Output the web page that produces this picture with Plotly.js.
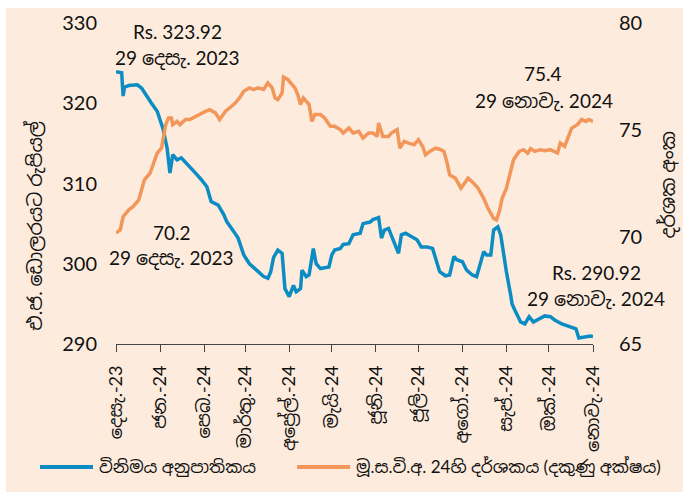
<!DOCTYPE html>
<html>
<head>
<meta charset="utf-8">
<script src="https://cdn.plot.ly/plotly-3.0.1.min.js"></script>
<style>
html,body{margin:0;padding:0;background:#ffffff;}
#chart{position:absolute;left:6px;top:8px;width:677px;height:484px;}
</style>
</head>
<body>
<div id="chart"></div>
<script>
// Exchange rate (Rs per USD) – left axis
const rateDates = ["2023-12-29","2023-12-31","2024-01-02","2024-01-03","2024-01-04","2024-01-07","2024-01-10","2024-01-13","2024-01-16","2024-01-20","2024-01-23","2024-01-27","2024-01-29","2024-01-31","2024-02-03","2024-02-05","2024-02-07","2024-02-10","2024-02-13","2024-02-18","2024-02-24","2024-02-27","2024-03-02","2024-03-05","2024-03-10","2024-03-14","2024-03-16","2024-03-21","2024-03-24","2024-03-28","2024-04-01","2024-04-06","2024-04-11","2024-04-14","2024-04-16","2024-04-18","2024-04-21","2024-04-24","2024-04-26","2024-04-29","2024-05-02","2024-05-04","2024-05-07","2024-05-08","2024-05-11","2024-05-13","2024-05-16","2024-05-18","2024-05-21","2024-05-27","2024-05-29","2024-05-31","2024-06-04","2024-06-06","2024-06-10","2024-06-13","2024-06-18","2024-06-20","2024-06-25","2024-06-27","2024-07-01","2024-07-03","2024-07-05","2024-07-08","2024-07-11","2024-07-15","2024-07-17","2024-07-20","2024-07-24","2024-07-28","2024-07-31","2024-08-04","2024-08-08","2024-08-10","2024-08-13","2024-08-17","2024-08-20","2024-08-23","2024-08-25","2024-08-29","2024-09-01","2024-09-05","2024-09-08","2024-09-11","2024-09-13","2024-09-15","2024-09-18","2024-09-20","2024-09-23","2024-09-25","2024-09-27","2024-09-29","2024-10-02","2024-10-03","2024-10-05","2024-10-09","2024-10-12","2024-10-15","2024-10-18","2024-10-23","2024-10-26","2024-10-30","2024-11-02","2024-11-07","2024-11-11","2024-11-14","2024-11-17","2024-11-19","2024-11-25","2024-11-27","2024-11-29"];
const rateValues = [323.92,323.9,323.8,320.9,322.0,322.2,322.25,322.3,321.9,320.7,320.0,319.0,317.75,316.9,314.4,311.3,313.6,312.95,313.2,312.3,311.1,310.5,309.6,307.75,307.3,306.1,305.25,304.0,303.2,301.1,300.0,299.2,298.4,298.2,299.0,300.8,301.7,301.3,296.9,295.9,297.3,296.5,296.9,299.2,298.4,298.6,301.9,300.0,299.4,299.6,301.1,301.7,301.9,302.4,302.5,303.6,303.8,305.0,305.2,305.5,305.75,303.2,304.2,304.4,303.0,301.3,303.6,303.8,303.4,303.0,302.1,302.1,301.9,300.7,299.0,298.5,298.6,300.9,300.5,300.25,299.2,298.6,298.4,300.25,301.5,301.1,301.1,304.2,304.6,303.6,300.9,299.0,296.1,295.0,294.2,292.75,292.5,293.4,292.75,293.2,293.5,293.4,293.0,292.5,292.3,292.1,291.9,290.75,290.9,291.0,290.92];

// Index (right axis)
const indexDates = ["2023-12-29","2024-01-01","2024-01-03","2024-01-07","2024-01-10","2024-01-14","2024-01-16","2024-01-18","2024-01-22","2024-01-24","2024-01-27","2024-01-30","2024-02-02","2024-02-04","2024-02-06","2024-02-07","2024-02-10","2024-02-12","2024-02-16","2024-02-19","2024-02-23","2024-02-26","2024-03-01","2024-03-04","2024-03-08","2024-03-11","2024-03-15","2024-03-18","2024-03-22","2024-03-25","2024-03-28","2024-04-01","2024-04-04","2024-04-07","2024-04-11","2024-04-14","2024-04-17","2024-04-19","2024-04-21","2024-04-24","2024-04-25","2024-04-28","2024-05-01","2024-05-03","2024-05-05","2024-05-07","2024-05-09","2024-05-13","2024-05-15","2024-05-17","2024-05-21","2024-05-24","2024-05-28","2024-05-31","2024-06-04","2024-06-06","2024-06-10","2024-06-13","2024-06-17","2024-06-20","2024-06-24","2024-06-27","2024-06-30","2024-07-01","2024-07-04","2024-07-08","2024-07-10","2024-07-14","2024-07-16","2024-07-19","2024-07-22","2024-07-26","2024-07-29","2024-08-01","2024-08-03","2024-08-06","2024-08-10","2024-08-13","2024-08-16","2024-08-18","2024-08-20","2024-08-24","2024-08-28","2024-08-31","2024-09-02","2024-09-06","2024-09-09","2024-09-13","2024-09-16","2024-09-20","2024-09-22","2024-09-24","2024-09-26","2024-09-29","2024-10-02","2024-10-04","2024-10-08","2024-10-11","2024-10-14","2024-10-16","2024-10-19","2024-10-23","2024-10-26","2024-10-30","2024-11-04","2024-11-06","2024-11-09","2024-11-12","2024-11-14","2024-11-18","2024-11-21","2024-11-24","2024-11-26","2024-11-29"];
const indexValues = [70.2,70.33,70.95,71.27,71.42,71.73,72.2,72.67,72.98,73.38,73.92,74.15,75.25,75.56,75.56,75.25,75.4,75.25,75.49,75.49,75.64,75.72,75.87,75.95,75.8,75.49,75.87,76.03,76.26,76.5,76.81,76.97,76.89,76.97,76.89,77.2,76.97,76.5,76.42,76.73,77.47,77.36,77.13,76.97,76.66,76.19,76.5,76.19,75.4,75.72,75.72,75.56,75.17,75.17,75.02,74.86,75.09,74.86,74.94,74.62,74.86,74.86,74.7,75.33,74.7,74.7,74.86,75.02,74.15,74.47,74.39,74.31,74.55,74.23,73.84,74.0,74.15,74.1,74.0,73.53,72.9,72.75,72.28,72.59,72.75,72.51,72.28,71.81,71.34,70.87,70.8,71.19,71.81,72.28,73.06,73.61,74.0,74.08,73.92,74.13,74.0,74.08,74.03,74.08,73.92,74.39,74.23,74.78,75.09,75.25,75.49,75.4,75.49,75.4];

const tickDates = ["2023-12-29","2024-01-29","2024-02-29","2024-03-29","2024-04-29","2024-05-29","2024-06-29","2024-07-29","2024-08-29","2024-09-29","2024-10-29","2024-11-29"];
const tickLabels = ["දෙසැ.-23","ජන.-24","පෙබ.-24","මාර්තු.-24","අප්‍රේල්.-24","මැයි-24","ජූනි-24","ජූලි-24","අගෝ.-24","සැප්.-24","ඔක්.-24","නොවැ.-24"];

const seriesNames = ["විනිමය අනුපාතිකය","මූ.ස.වි.අ. 24හි දර්ශකය (දකුණු අක්ෂය)"];
const leftTitle = "එ.ජ. ඩොලරයට රුපියල්";
const rightTitle = "දර්ශක අංක";

const FONT = "Lato, 'Noto Sans', 'Noto Sans Sinhala', sans-serif";
const BLUE = "#0B8DC4";
const ORANGE = "#F2965A";
const BG = "#FDECDD";
const TXT = "#111111";

const traces = [
  {x: rateDates, y: rateValues, name: seriesNames[0], type: "scatter", mode: "lines",
   line: {color: BLUE, width: 3.5}, yaxis: "y"},
  {x: indexDates, y: indexValues, name: seriesNames[1], type: "scatter", mode: "lines",
   line: {color: ORANGE, width: 3.5}, yaxis: "y2"}
];

const annFont = {family: FONT, size: 19, color: TXT};
function ann(text, x, y, xanchor) {
  return {text: text, x: x, y: y, xref: "paper", yref: "paper", showarrow: false,
          xanchor: xanchor || "center", yanchor: "middle", font: annFont};
}

// manual legend (line samples + labels)
const legY = -0.383;
const legendShapes = [
  {type: "line", xref: "paper", yref: "paper", x0: -0.1594, x1: -0.0482, y0: legY, y1: legY,
   line: {color: BLUE, width: 4}},
  {type: "line", xref: "paper", yref: "paper", x0: 0.3797, x1: 0.4909, y0: legY, y1: legY,
   line: {color: ORANGE, width: 4}}
];
const legFont = {family: FONT, size: 17, color: TXT};

const layout = {
  width: 677, height: 484,
  paper_bgcolor: BG, plot_bgcolor: BG,
  margin: {l: 110, r: 90, t: 15, b: 148},
  showlegend: false,
  xaxis: {type: "date", range: ["2023-12-29", "2024-11-29"], tickmode: "array",
          tickvals: tickDates, ticktext: tickLabels, tickangle: -90,
          showgrid: false, zeroline: false, showline: true, linecolor: "#444", linewidth: 1.3,
          ticks: "outside", ticklen: 7, tickcolor: "#444", ticklabelstandoff: 6,
          tickfont: {family: FONT, size: 18, color: TXT}},
  yaxis: {range: [290, 330], tickvals: [290, 300, 310, 320, 330], showgrid: false,
          zeroline: false, showline: false, ticks: "", ticklabelstandoff: 18,
          tickfont: {family: FONT, size: 20, color: TXT}},
  yaxis2: {range: [65, 80], tickvals: [65, 70, 75, 80], overlaying: "y", side: "right",
           showgrid: false, zeroline: false, showline: false, ticks: "", ticklabelstandoff: 25,
           tickfont: {family: FONT, size: 20, color: TXT}},
  shapes: legendShapes,
  annotations: [
    ann("Rs. 323.92", 0.129, 0.972),
    ann("29 දෙසැ. 2023", 0.128, 0.891),
    ann("70.2", 0.117, 0.346),
    ann("29 දෙසැ. 2023", 0.116, 0.268),
    ann("75.4", 0.896, 0.844),
    ann("29 නොවැ. 2024", 0.897, 0.760),
    ann("Rs. 290.92", 1.007, 0.224),
    ann("29 නොවැ. 2024", 1.006, 0.143),
    {text: leftTitle, x: -0.170, y: 0.371, xref: "paper", yref: "paper", showarrow: false,
     textangle: -90, xanchor: "center", yanchor: "middle", font: {family: FONT, size: 19, color: TXT}},
    {text: rightTitle, x: 1.158, y: 0.495, xref: "paper", yref: "paper", showarrow: false,
     textangle: -90, xanchor: "center", yanchor: "middle", font: {family: FONT, size: 19, color: TXT}},
    {text: seriesNames[0], x: -0.0399, y: legY, xref: "paper", yref: "paper", showarrow: false,
     xanchor: "left", yanchor: "middle", font: legFont},
    {text: seriesNames[1], x: 0.4993, y: legY, xref: "paper", yref: "paper", showarrow: false,
     xanchor: "left", yanchor: "middle", font: legFont}
  ]
};

Plotly.newPlot("chart", traces, layout, {displayModeBar: false, staticPlot: true});
</script>
</body>
</html>
